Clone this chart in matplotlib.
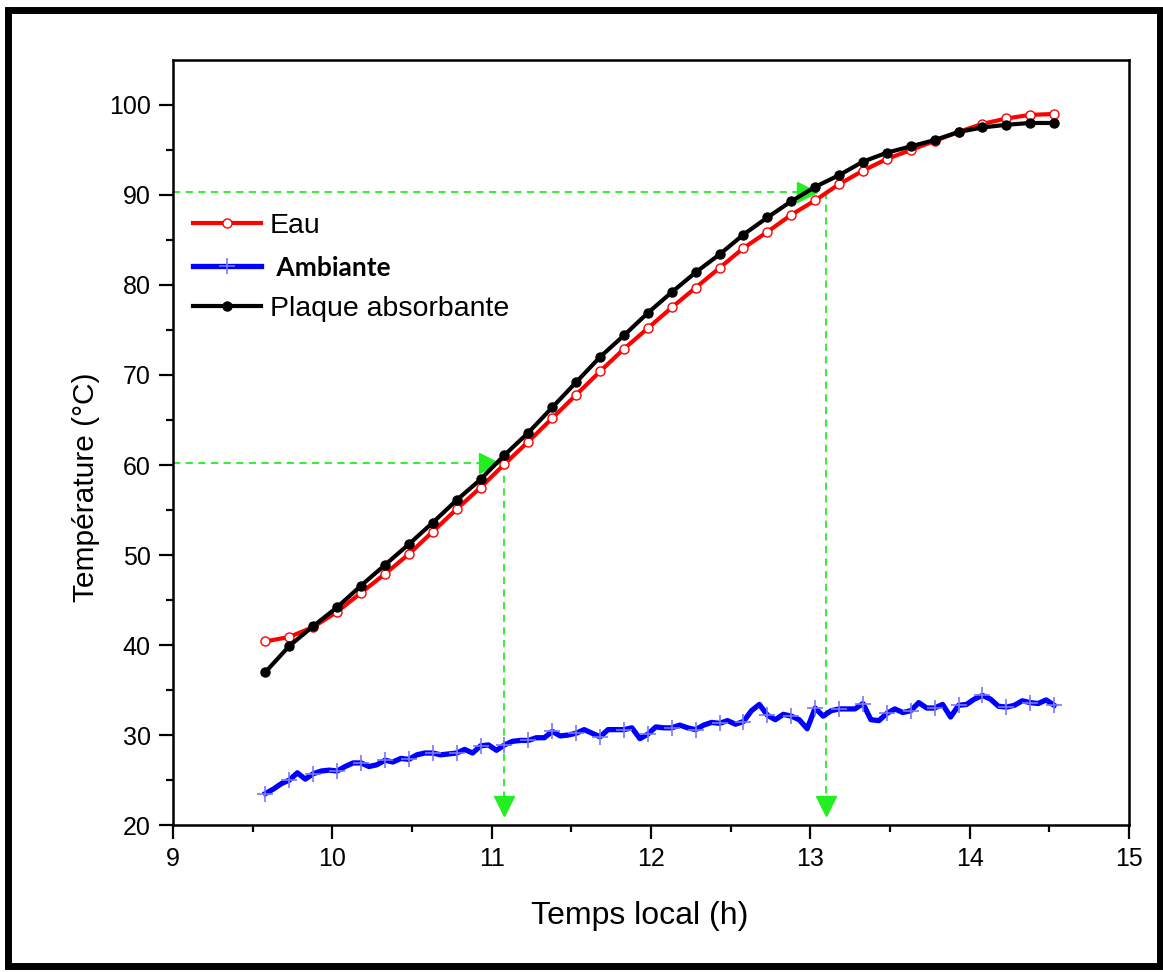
import matplotlib
matplotlib.use("Agg")
import matplotlib.pyplot as plt
from matplotlib.ticker import MultipleLocator
from matplotlib.patches import Rectangle

# ---- data ----
t_start = 9.58
t_step_main = 0.15
t_step_amb = 0.05

eau = [40.4, 40.9, 42.0, 43.7, 45.8, 47.9, 50.1, 52.6, 55.1, 57.5,
       60.1, 62.6, 65.2, 67.8, 70.4, 72.9, 75.2, 77.5, 79.7, 81.9,
       84.1, 85.9, 87.8, 89.4, 91.2, 92.7, 94.0, 95.0, 96.0, 97.0,
       97.9, 98.5, 98.9, 99.0]

plaque = [37.0, 39.9, 42.1, 44.2, 46.6, 48.9, 51.2, 53.6, 56.1, 58.4,
          61.1, 63.6, 66.4, 69.2, 72.0, 74.4, 76.9, 79.2, 81.4, 83.4,
          85.6, 87.5, 89.3, 90.9, 92.2, 93.7, 94.7, 95.4, 96.1, 97.0,
          97.5, 97.8, 98.0, 98.0]

ambiante = [23.5, 24.0, 24.6, 25.0, 25.8, 25.1, 25.7, 26.0, 26.1, 26.0,
            26.5, 26.9, 26.9, 26.5, 26.7, 27.2, 27.0, 27.4, 27.3, 27.8,
            28.0, 28.0, 27.8, 27.9, 28.0, 28.4, 28.0, 28.8, 28.9, 28.3,
            28.9, 29.3, 29.4, 29.4, 29.7, 29.7, 30.4, 29.9, 30.0, 30.2,
            30.6, 30.2, 29.8, 30.6, 30.6, 30.6, 30.8, 29.6, 30.1, 30.9,
            30.8, 30.8, 31.1, 30.8, 30.6, 31.1, 31.4, 31.3, 31.6, 31.2,
            31.5, 32.7, 33.4, 32.2, 31.7, 32.3, 32.1, 31.7, 30.7, 33.0,
            32.1, 32.7, 32.9, 32.9, 32.9, 33.5, 31.7, 31.6, 32.4, 32.9,
            32.5, 32.7, 33.6, 33.0, 33.0, 33.4, 32.0, 33.3, 33.4, 34.0,
            34.4, 34.0, 33.2, 33.1, 33.3, 33.8, 33.6, 33.5, 33.9, 33.3]

t_main = [t_start + t_step_main * i for i in range(len(eau))]
t_amb = [t_start + t_step_amb * i for i in range(len(ambiante))]

# guide arrows: (time, temperature level)
guide_times = [11.08, 13.10]
guide_levels = [60.2, 90.3]
guide_head_x = [10.98, 12.98]
guide_tip_y = 21.1

labels = ["Eau", " Ambiante", "Plaque absorbante"]
xlabel = "Temps local (h)"
ylabel = "Température (°C)"

# ---- figure ----
plt.rcParams['font.family'] = ['Liberation Sans', 'DejaVu Sans']
fig = plt.figure(figsize=(11.63, 9.72), dpi=100)
ax = fig.add_axes([0.1488, 0.1512, 0.8220, 0.7871])

green = '#22ee22'
for tx, lvl, hx in zip(guide_times, guide_levels, guide_head_x):
    ax.plot([9.0, hx - 0.05], [lvl, lvl], ls=(0, (4, 3)), color=green, lw=1.3, zorder=1)
    ax.plot([hx], [lvl], marker='>', ms=14, color=green, mec=green, ls='none', zorder=1)
    ax.plot([tx, tx], [lvl, guide_tip_y + 1.5], ls=(0, (4, 3)), color=green, lw=1.3, zorder=1)
    ax.plot([tx], [guide_tip_y + 1.0], marker='v', ms=14, color=green, mec=green, ls='none', zorder=1)

l1, = ax.plot(t_main, eau, color='red', lw=3, marker='o', ms=6.5,
              mfc='white', mec='red', mew=1.0, zorder=3)
l2, = ax.plot(t_amb, ambiante, color='#0000ff', lw=3.8, marker='+', ms=12,
              mec='#7777ff', mew=1.2, markevery=3, zorder=3)
l3, = ax.plot(t_main, plaque, color='black', lw=3, marker='o', ms=6.5,
              mfc='black', mec='black', zorder=4)

ax.set_xlim(9, 15)
ax.set_ylim(20, 105)
ax.xaxis.set_major_locator(MultipleLocator(1))
ax.xaxis.set_minor_locator(MultipleLocator(0.5))
ax.yaxis.set_major_locator(MultipleLocator(10))
ax.yaxis.set_minor_locator(MultipleLocator(5))
ax.yaxis.set_major_formatter(plt.FuncFormatter(lambda v, p: f"{v:.0f}" if v <= 100 else ""))
ax.tick_params(which='major', direction='out', length=10, width=1.6, labelsize=18, pad=6)
ax.tick_params(which='minor', direction='out', length=5, width=1.6)
ax.tick_params(top=False, right=False)
for tk, loc in zip(ax.yaxis.get_major_ticks(), ax.yaxis.get_majorticklocs()):
    if loc > 100.5:
        tk.set_visible(False)
for tk, loc in zip(ax.yaxis.get_minor_ticks(), ax.yaxis.get_minorticklocs()):
    if loc > 100.5:
        tk.set_visible(False)
for s in ax.spines.values():
    s.set_linewidth(1.8)

ax.set_xlabel(xlabel, fontsize=23)
ax.set_ylabel(ylabel, fontsize=21.5)
ax.xaxis.set_label_coords(0.488, -0.099)
ax.yaxis.set_label_coords(-0.076, 0.442)

leg = ax.legend([l1, l2, l3], labels, loc='upper left', bbox_to_anchor=(0.0, 0.826),
                frameon=False, fontsize=20.5, handlelength=2.4, handletextpad=0.3,
                labelspacing=0.58, borderaxespad=0.3)
leg.get_texts()[1].set_fontfamily(['Lato', 'DejaVu Sans'])
leg.get_texts()[1].set_fontweight('bold')
leg.get_texts()[1].set_fontsize(19)

# outer frame
fig.patches.append(Rectangle((0.0073, 0.0062), 0.9902, 0.9840, transform=fig.transFigure,
                             fill=False, lw=5, ec='black'))

fig.savefig("out.png", dpi=100)
